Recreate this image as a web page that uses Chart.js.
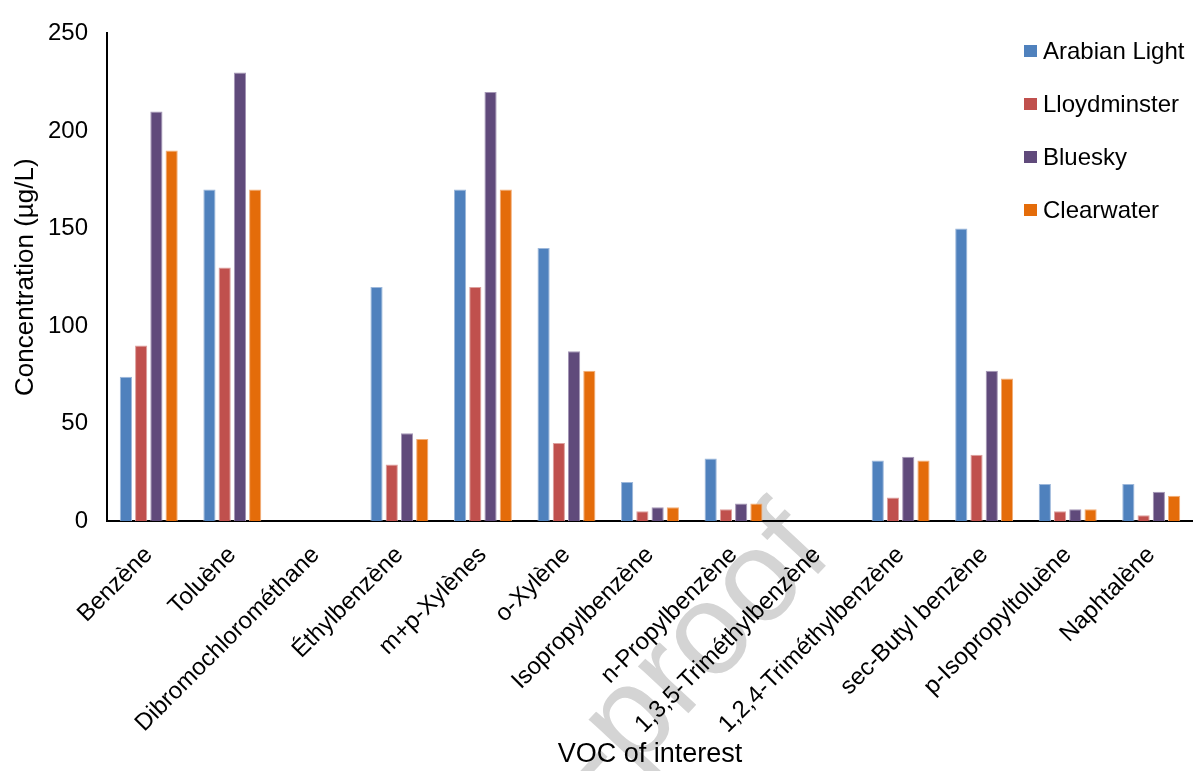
<!DOCTYPE html>
<html>
<head>
<meta charset="utf-8">
<script src="https://cdn.jsdelivr.net/npm/chart.js@4/dist/chart.umd.min.js"></script>
<style>
  html, body { margin: 0; padding: 0; background: #fff; }
  #wrap { width: 1193px; height: 771px; }
</style>
</head>
<body>
<div id="wrap"><canvas id="c" width="1193" height="771"></canvas></div>
<script>
// VOC concentrations (µg/L) per crude oil
const categories = [
  'Benzène', 'Toluène', 'Dibromochlorométhane', 'Éthylbenzène', 'm+p-Xylènes',
  'o-Xylène', 'Isopropylbenzène', 'n-Propylbenzène', '1,3,5-Triméthylbenzène',
  '1,2,4-Triméthylbenzène', 'sec-Butyl benzène', 'p-Isopropyltoluène', 'Naphtalène'
];
const seriesNames = ['Arabian Light', 'Lloydminster', 'Bluesky', 'Clearwater'];
const arabianLight = [74, 170, null, 120, 170, 140, 20, 32, null, 31, 150, 19, 19];
const lloydminster = [90, 130, null, 29, 120, 40, 5, 6, null, 12, 34, 5, 3];
const bluesky      = [210, 230, null, 45, 220, 87, 7, 9, null, 33, 77, 6, 15];
const clearwater   = [190, 170, null, 42, 170, 77, 7, 9, null, 31, 73, 6, 13];
const yTicks = [0, 50, 100, 150, 200, 250];

const colors = ['#4F81BD', '#C0504D', '#604A7B', '#E46C0A'];
const edges  = ['#9DB8DB', '#DDA09E', '#A597B6', '#F2AE78'];
const FONT = "'Liberation Sans', Arial, Helvetica, sans-serif";

const seriesValues = [arabianLight, lloydminster, bluesky, clearwater];
const datasets = seriesNames.map((name, i) => ({
  label: name,
  data: seriesValues[i],
  backgroundColor: colors[i],
  borderColor: edges[i],
  borderWidth: 1,
  barPercentage: 0.8,
  categoryPercentage: 0.73
}));

// page background and faint watermark behind everything
const backdrop = {
  id: 'backdrop',
  beforeDraw(chart) {
    const ctx = chart.ctx;
    ctx.save();
    ctx.fillStyle = '#ffffff';
    ctx.fillRect(0, 0, chart.width, chart.height);
    ctx.translate(835, 556);
    ctx.rotate(-47 * Math.PI / 180);
    ctx.font = '130px ' + FONT;
    ctx.fillStyle = '#d4d4d4';
    ctx.textAlign = 'right';
    ctx.textBaseline = 'alphabetic';
    ctx.fillText('Journal Pre-proof', 0, 0);
    ctx.restore();
  }
};

// vertical legend drawn over the upper right of the plot
const sideLegend = {
  id: 'sideLegend',
  afterDraw(chart) {
    const ctx = chart.ctx;
    ctx.save();
    ctx.font = '24px ' + FONT;
    ctx.textBaseline = 'middle';
    ctx.textAlign = 'left';
    chart.data.datasets.forEach((ds, i) => {
      const cy = 51 + i * 53;
      ctx.fillStyle = ds.backgroundColor;
      ctx.fillRect(1024, cy - 6, 13, 12);
      ctx.fillStyle = '#000';
      ctx.fillText(ds.label, 1043, cy + 1);
    });
    ctx.restore();
  }
};

new Chart(document.getElementById('c'), {
  type: 'bar',
  data: { labels: categories, datasets },
  plugins: [backdrop, sideLegend],
  options: {
    responsive: false,
    animation: false,
    devicePixelRatio: 1,
    layout: { padding: { top: 16, right: 0, left: 0, bottom: 0 } },
    plugins: { legend: { display: false }, tooltip: { enabled: false } },
    scales: {
      x: {
        grid: { display: false, drawTicks: false },
        border: { color: '#000', width: 2 },
        ticks: {
          color: '#000',
          font: { family: FONT, size: 24 },
          maxRotation: 45,
          minRotation: 45,
          autoSkip: false,
          padding: 20
        },
        title: {
          display: true,
          text: 'VOC of interest',
          color: '#000',
          font: { family: FONT, size: 27 },
          padding: { top: 0, bottom: 0 }
        },
        afterFit(scale) { scale.height = 250; }
      },
      y: {
        min: 0,
        max: 250,
        afterBuildTicks(scale) { scale.ticks = yTicks.map(v => ({ value: v })); },
        grid: { display: false, drawTicks: false },
        border: { color: '#000', width: 2 },
        ticks: {
          color: '#000',
          font: { family: FONT, size: 24 },
          padding: 19
        },
        title: {
          display: true,
          text: 'Concentration (µg/L)',
          color: '#000',
          font: { family: FONT, size: 26 },
          padding: { top: 10, bottom: 0 }
        },
        afterFit(scale) { scale.width = 107; }
      }
    }
  }
});
</script>
</body>
</html>
